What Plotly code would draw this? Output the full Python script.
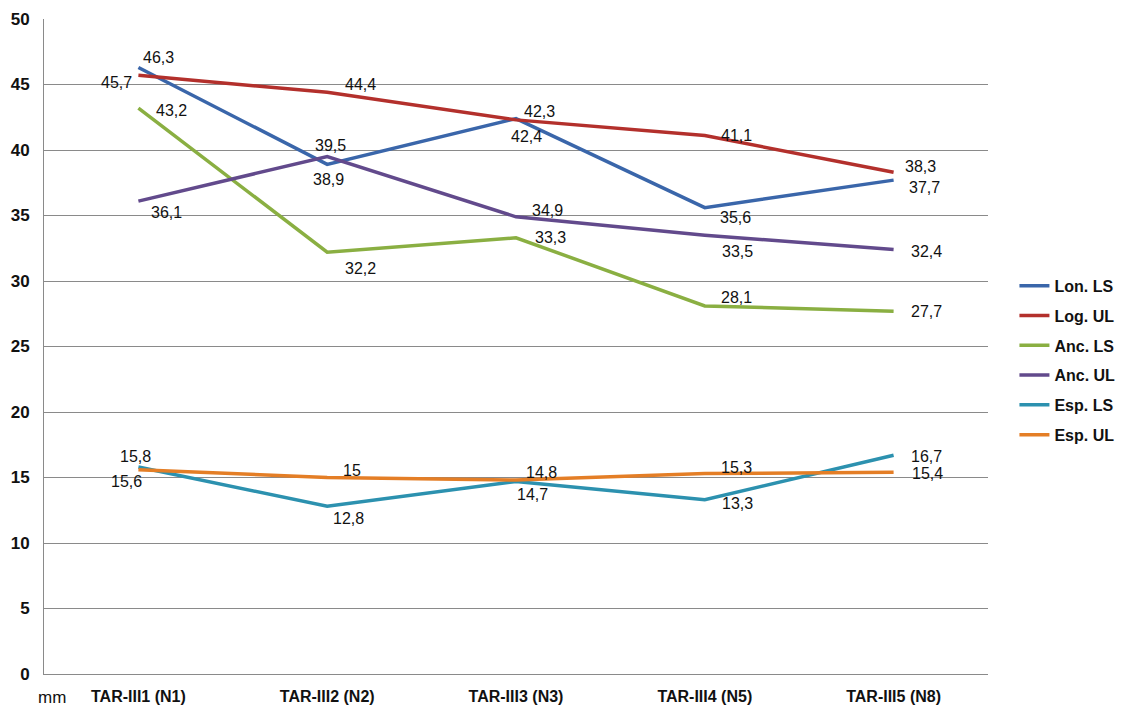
import plotly.graph_objects as go

categories = ["TAR-III1 (N1)", "TAR-III2 (N2)", "TAR-III3 (N3)", "TAR-III4 (N5)", "TAR-III5 (N8)"]
y_ticks = [0, 5, 10, 15, 20, 25, 30, 35, 40, 45, 50]

lon_ls = [46.3, 38.9, 42.4, 35.6, 37.7]
log_ul = [45.7, 44.4, 42.3, 41.1, 38.3]
anc_ls = [43.2, 32.2, 33.3, 28.1, 27.7]
anc_ul = [36.1, 39.5, 34.9, 33.5, 32.4]
esp_ls = [15.8, 12.8, 14.7, 13.3, 16.7]
esp_ul = [15.6, 15.0, 14.8, 15.3, 15.4]

series = [
    ("Lon. LS", lon_ls, "#3A66AA"),
    ("Log. UL", log_ul, "#B3302C"),
    ("Anc. LS", anc_ls, "#8AAF42"),
    ("Anc. UL", anc_ul, "#624A8C"),
    ("Esp. LS", esp_ls, "#2C91AF"),
    ("Esp. UL", esp_ul, "#E47E26"),
]

# label offsets (xshift, yshift) in px for each point, per series
label_offsets = [
    [(20, 10), (1, -15), (10, -18), (31, -10), (31, -7)],
    [(-22, -7), (33, 8), (23, 8), (32, 0), (27, 6)],
    [(33, -2), (33, -16), (34, 0), (32, 8), (33, 0)],
    [(28, -11), (3, 11), (31, 6), (33, -16), (33, -2)],
    [(-3, 11), (21, -12), (16, -13), (33, -4), (33, -1)],
    [(-12, -12), (25, 7), (25, 8), (32, 6), (34, -1)],
]

fig = go.Figure()
annotations = []
for (name, vals, color), offs in zip(series, label_offsets):
    fig.add_trace(go.Scatter(
        x=categories, y=vals, name=name, mode="lines",
        line=dict(color=color, width=3.5), legendgroup=name,
    ))
    for c, v, (dx, dy) in zip(categories, vals, offs):
        txt = ("%g" % v).replace(".", ",")
        annotations.append(dict(
            x=c, y=v, text=txt, showarrow=False, xshift=dx, yshift=dy,
            font=dict(family="Liberation Sans", size=16, color="#111111"),
        ))

annotations.append(dict(
    x=0, y=0, xref="paper", yref="paper", text="mm", showarrow=False,
    xanchor="center", yanchor="top", xshift=8, yshift=-12,
    font=dict(family="Liberation Sans", size=17, color="#111111"),
))

fig.update_layout(
    width=1125, height=702,
    margin=dict(l=36, r=145, t=11, b=36),
    paper_bgcolor="white", plot_bgcolor="white",
    annotations=annotations,
    showlegend=True,
    legend=dict(
        x=1.028, y=0.479, xanchor="left", yanchor="middle",
        font=dict(family="Liberation Sans", size=16, color="#111111", weight="bold"),
        tracegroupgap=6, bgcolor="rgba(0,0,0,0)",
    ),
    xaxis=dict(
        range=[-0.5, 4.5], automargin=False,
        showgrid=False, zeroline=False, showline=True, linecolor="#8a8a8a",
        linewidth=1, ticks="outside", ticklen=8, tickcolor="rgba(0,0,0,0)",
        tickfont=dict(family="Liberation Sans", size=16, color="#111111", weight="bold"),
    ),
    yaxis=dict(
        range=[0, 50], tickmode="array", tickvals=y_ticks, automargin=False,
        showgrid=True, gridcolor="#8a8a8a", gridwidth=1,
        zeroline=False, showline=True, linecolor="#8a8a8a", linewidth=1,
        ticklabeloverflow="allow",
        ticks="outside", ticklen=10, tickcolor="rgba(0,0,0,0)",
        tickfont=dict(family="Liberation Sans", size=17, color="#111111", weight="bold"),
    ),
    hovermode=False,
)

fig.write_html("out.html")
